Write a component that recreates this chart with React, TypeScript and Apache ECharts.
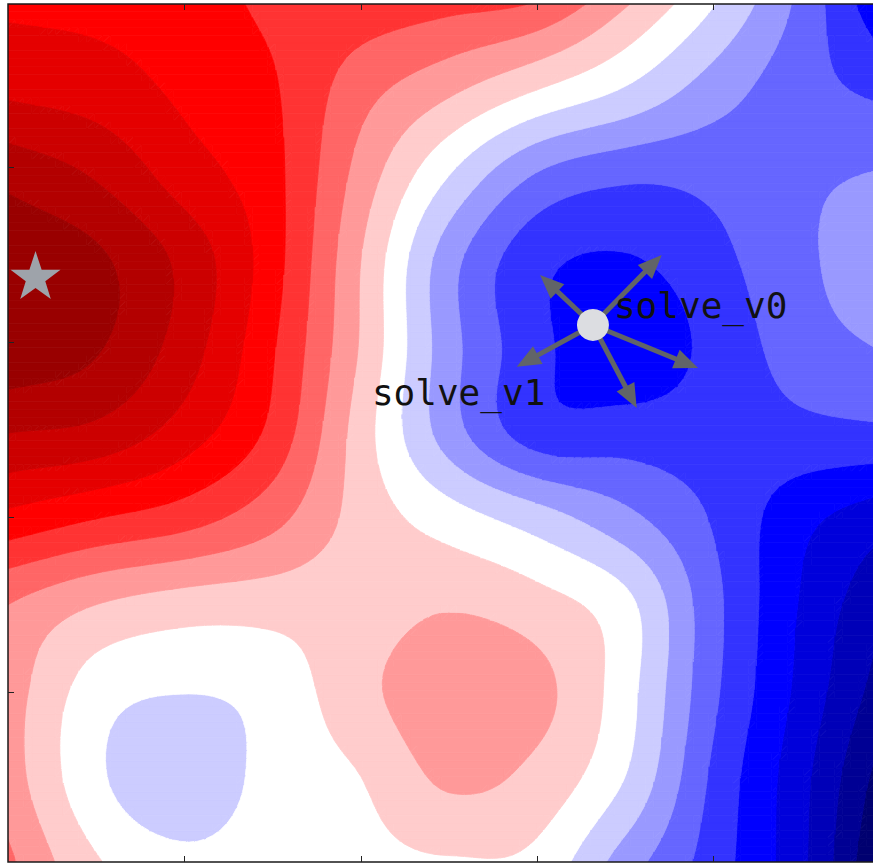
import React, { useEffect, useRef } from "react";
import * as echarts from "echarts";

// ---- axes ----
const X_MIN = 0;
const X_MAX = 5;
const Y_MIN = 0;
const Y_MAX = 4.9;
const X_TICKS = [1, 2, 3, 4];
const Y_TICKS = [0.97, 1.97, 2.97, 3.97];

// ---- sampled landscape (read from the picture) ----
// columns at x = 0, 0.5, ... 5 ; rows from the top (y = 4.9) down to y = 0
const FIELD_X = [0, 0.5, 1, 1.5, 2, 2.5, 3, 3.5, 4, 4.5, 5];
const FIELD_Y = [4.9, 4.41, 3.92, 3.43, 2.94, 2.45, 1.96, 1.47, 0.98, 0.49, 0];
const ROW_0 = [0.53, 0.52, 0.5, 0.43, 0.41, 0.38, 0.34, 0.16, -0.045, -0.28, -0.56];
const ROW_1 = [0.63, 0.6, 0.53, 0.46, 0.29, 0.17, 0.05, -0.06, -0.2, -0.31, -0.38];
const ROW_2 = [0.82, 0.74, 0.6, 0.48, 0.21, -0.05, -0.26, -0.33, -0.32, -0.27, -0.24];
const ROW_3 = [0.93, 0.87, 0.72, 0.49, 0.15, -0.21, -0.42, -0.46, -0.38, -0.27, -0.18];
const ROW_4 = [0.92, 0.86, 0.7, 0.46, 0.14, -0.21, -0.42, -0.52, -0.42, -0.3, -0.24];
const ROW_5 = [0.75, 0.72, 0.6, 0.42, 0.1, -0.2, -0.4, -0.4, -0.4, -0.38, -0.37];
const ROW_6 = [0.52, 0.45, 0.39, 0.28, 0.11, 0.0, -0.1, -0.22, -0.36, -0.52, -0.62];
const ROW_7 = [0.25, 0.15, 0.1, 0.09, 0.1, 0.14, 0.09, -0.02, -0.32, -0.56, -0.75];
const ROW_8 = [0.2, 0.0, -0.045, -0.01, 0.12, 0.22, 0.18, -0.01, -0.33, -0.58, -0.82];
const ROW_9 = [0.2, -0.03, -0.13, -0.01, 0.05, 0.17, 0.12, -0.05, -0.37, -0.62, -0.92];
const ROW_10 = [0.27, 0.06, -0.02, 0.01, 0.02, 0.04, 0.02, -0.2, -0.4, -0.63, -1.0];
const FIELD = [ROW_0, ROW_1, ROW_2, ROW_3, ROW_4, ROW_5, ROW_6, ROW_7, ROW_8, ROW_9, ROW_10];

// contour levels: bands centred on multiples of LEVEL_STEP from -1 to 1
const LEVEL_STEP = 0.1;
const LEVEL_COUNT = 21;

// ---- markers ----
const STAR_POINT = [0.156, 3.352];
const SOLVER_POINT = [3.316, 3.067];
const ARROW_TIPS = [
  [3.706, 3.467],
  [3.016, 3.352],
  [2.884, 2.829],
  [3.564, 2.593],
  [3.912, 2.821],
];
const LABEL_TEXTS = ["solve_v0", "solve_v1"];
const LABEL_POINTS = [
  [3.435, 3.178],
  [2.063, 2.681],
];

// ---- styles ----
const ARROW_COLOR = "#616468";
const CIRCLE_COLOR = "#dcdde1";
const STAR_COLOR = "#9ea3aa";
const STAR_PATH =
  "path://M50,0 L61.8,35.1 L98.1,35.1 L68.8,56.7 L79.4,90.5 L50,69.6 L20.6,90.5 L31.2,56.7 L1.9,35.1 L38.2,35.1 Z";

// seismic colormap
function seismic(t: number): string {
  const stops: [number, number[]][] = [
    [0, [0, 0, 0.3]],
    [0.25, [0, 0, 1]],
    [0.5, [1, 1, 1]],
    [0.75, [1, 0, 0]],
    [1, [0.5, 0, 0]],
  ];
  let k = 0;
  while (k < stops.length - 2 && t > stops[k + 1][0]) k++;
  const [t0, c0] = stops[k];
  const [t1, c1] = stops[k + 1];
  const f = Math.max(0, Math.min(1, (t - t0) / (t1 - t0)));
  const c = c0.map((v, i) => Math.round((v + (c1[i] - v) * f) * 255));
  return `rgb(${c[0]},${c[1]},${c[2]})`;
}
const HALF = (LEVEL_COUNT - 1) / 2;
const BAND_COLORS = Array.from({ length: LEVEL_COUNT }, (_, b) => seismic(b / (LEVEL_COUNT - 1)));

// ---- field interpolation (Catmull-Rom over the read grid) ----
const NC = FIELD_X.length;
const NR = FIELD_Y.length;
const CELL_X = (FIELD_X[NC - 1] - FIELD_X[0]) / (NC - 1);
const CELL_Y = (FIELD_Y[0] - FIELD_Y[NR - 1]) / (NR - 1);

function gv(i: number, j: number): number {
  if (i < 0) return 2 * gv(0, j) - gv(1, j);
  if (i > NC - 1) return 2 * gv(NC - 1, j) - gv(NC - 2, j);
  if (j < 0) return 2 * gv(i, 0) - gv(i, 1);
  if (j > NR - 1) return 2 * gv(i, NR - 1) - gv(i, NR - 2);
  return FIELD[j][i];
}
function cr(p0: number, p1: number, p2: number, p3: number, t: number) {
  return 0.5 * (2 * p1 + (-p0 + p2) * t + (2 * p0 - 5 * p1 + 4 * p2 - p3) * t * t + (-p0 + 3 * p1 - 3 * p2 + p3) * t * t * t);
}
function fieldAt(x: number, y: number): number {
  const gx = (x - FIELD_X[0]) / CELL_X;
  const gy = (FIELD_Y[0] - y) / CELL_Y;
  let i = Math.floor(gx);
  let j = Math.floor(gy);
  i = Math.max(0, Math.min(NC - 2, i));
  j = Math.max(0, Math.min(NR - 2, j));
  const tx = gx - i;
  const ty = gy - j;
  const col: number[] = [];
  for (let dj = -1; dj <= 2; dj++) {
    col.push(cr(gv(i - 1, j + dj), gv(i, j + dj), gv(i + 1, j + dj), gv(i + 2, j + dj), tx));
  }
  return cr(col[0], col[1], col[2], col[3], ty);
}

function bandOf(v: number) {
  return Math.max(0, Math.min(LEVEL_COUNT - 1, Math.floor(v / LEVEL_STEP + 0.5) + HALF));
}
function bandLo(b: number) {
  return (b - HALF - 0.5) * LEVEL_STEP;
}
function bandHi(b: number) {
  return (b - HALF + 0.5) * LEVEL_STEP;
}
function clip(poly: number[][], t: number, keepAbove: boolean): number[][] {
  const out: number[][] = [];
  for (let k = 0; k < poly.length; k++) {
    const a = poly[k];
    const b = poly[(k + 1) % poly.length];
    const ina = keepAbove ? a[2] >= t : a[2] < t;
    const inb = keepAbove ? b[2] >= t : b[2] < t;
    if (ina) out.push(a);
    if (ina !== inb) {
      const f = (t - a[2]) / (b[2] - a[2]);
      out.push([a[0] + f * (b[0] - a[0]), a[1] + f * (b[1] - a[1]), t]);
    }
  }
  return out;
}

type Shape = { b: number; pts: number[][]; cx: number; cy: number };

function buildShapes(): Shape[] {
  const NX = 112;
  const NY = 110;
  const dx = (X_MAX - X_MIN) / NX;
  const dy = (Y_MAX - Y_MIN) / NY;
  const V: number[][] = [];
  for (let j = 0; j <= NY; j++) {
    const row: number[] = [];
    for (let i = 0; i <= NX; i++) row.push(fieldAt(X_MIN + i * dx, Y_MIN + j * dy));
    V.push(row);
  }
  const shapes: Shape[] = [];
  const push = (b: number, pts: number[][]) => {
    let cx = 0;
    let cy = 0;
    pts.forEach((p) => {
      cx += p[0];
      cy += p[1];
    });
    shapes.push({ b, pts, cx: cx / pts.length, cy: cy / pts.length });
  };
  for (let j = 0; j < NY; j++) {
    const y0 = Y_MIN + j * dy;
    const y1 = Y_MIN + (j + 1) * dy;
    let runB = -1;
    let runStart = 0;
    const flush = (iEnd: number) => {
      if (runB >= 0) {
        push(runB, [
          [X_MIN + runStart * dx, y0],
          [X_MIN + iEnd * dx, y0],
          [X_MIN + iEnd * dx, y1],
          [X_MIN + runStart * dx, y1],
        ]);
      }
      runB = -1;
    };
    for (let i = 0; i < NX; i++) {
      const a = V[j][i];
      const b = V[j][i + 1];
      const c = V[j + 1][i + 1];
      const d = V[j + 1][i];
      const ba = bandOf(a);
      if (ba === bandOf(b) && ba === bandOf(c) && ba === bandOf(d)) {
        if (runB === ba) continue;
        flush(i);
        runB = ba;
        runStart = i;
        continue;
      }
      flush(i);
      const x0 = X_MIN + i * dx;
      const x1 = X_MIN + (i + 1) * dx;
      const P00 = [x0, y0, a];
      const P10 = [x1, y0, b];
      const P11 = [x1, y1, c];
      const P01 = [x0, y1, d];
      const tris = [
        [P00, P10, P11],
        [P00, P11, P01],
      ];
      for (const tri of tris) {
        const bs = tri.map((p) => bandOf(p[2]));
        const bmin = Math.min(...bs);
        const bmax = Math.max(...bs);
        for (let k = bmin; k <= bmax; k++) {
          let poly = tri;
          if (k > 0) poly = clip(poly, bandLo(k), true);
          if (poly.length >= 3 && k < LEVEL_COUNT - 1) poly = clip(poly, bandHi(k), false);
          if (poly.length >= 3) push(k, poly.map((p) => [p[0], p[1]]));
        }
      }
    }
    flush(NX);
  }
  return shapes;
}

export default function App() {
  const ref = useRef<HTMLDivElement>(null);
  useEffect(() => {
    if (!ref.current) return;
    const chart = echarts.init(ref.current, undefined, { renderer: "svg" });
    const shapes = buildShapes();
    const tickStyle = { show: true, inside: true, length: 6, lineStyle: { color: "#222", width: 1 } };
    const option: any = {
      animation: false,
      grid: {
        left: 8,
        top: 4,
        width: 882,
        height: 858,
        show: true,
        borderColor: "#1a1a1a",
        borderWidth: 1.5,
        backgroundColor: "transparent",
        z: 10,
      },
      xAxis: [
        {
          type: "value",
          min: X_MIN,
          max: X_MAX,
          interval: 1,
          position: "bottom",
          axisLine: { show: false },
          axisLabel: { show: false },
          splitLine: { show: false },
          axisTick: { ...tickStyle, customValues: X_TICKS },
          z: 10,
        },
        {
          type: "value",
          min: X_MIN,
          max: X_MAX,
          interval: 1,
          position: "top",
          axisLine: { show: false },
          axisLabel: { show: false },
          splitLine: { show: false },
          axisTick: { ...tickStyle, customValues: X_TICKS },
          z: 10,
        },
      ],
      yAxis: [
        {
          type: "value",
          min: Y_MIN,
          max: Y_MAX,
          interval: 1,
          axisLine: { show: false },
          axisLabel: { show: false, customValues: Y_TICKS },
          splitLine: { show: false },
          axisTick: { ...tickStyle, customValues: Y_TICKS },
          z: 10,
        },
      ],
      series: [
        {
          type: "custom",
          coordinateSystem: "cartesian2d",
          xAxisIndex: 0,
          yAxisIndex: 0,
          silent: true,
          clip: true,
          progressive: 0,
          progressiveThreshold: 1e9,
          z: 1,
          data: shapes.map((s, k) => [s.cx, s.cy, k]),
          renderItem: (params: any, api: any) => {
            const s = shapes[params.dataIndex];
            const pts = s.pts.map((p) => api.coord(p));
            const col = BAND_COLORS[s.b];
            return {
              type: "polygon",
              shape: { points: pts },
              style: { fill: col, stroke: col, lineWidth: 0.8 },
            };
          },
        },
        {
          type: "custom",
          coordinateSystem: "cartesian2d",
          silent: true,
          z: 20,
          data: ARROW_TIPS,
          renderItem: (params: any, api: any) => {
            const s = api.coord(SOLVER_POINT);
            const t = api.coord([api.value(0), api.value(1)]);
            const vx = t[0] - s[0];
            const vy = t[1] - s[1];
            const L = Math.hypot(vx, vy) || 1;
            const ux = vx / L;
            const uy = vy / L;
            const HL = 24;
            const HW = 10;
            const bx = t[0] - ux * HL;
            const by = t[1] - uy * HL;
            return {
              type: "group",
              children: [
                {
                  type: "line",
                  shape: { x1: s[0], y1: s[1], x2: bx + ux * 2, y2: by + uy * 2 },
                  style: { stroke: ARROW_COLOR, lineWidth: 5 },
                },
                {
                  type: "polygon",
                  shape: {
                    points: [
                      [t[0], t[1]],
                      [bx - uy * HW, by + ux * HW],
                      [bx + uy * HW, by - ux * HW],
                    ],
                  },
                  style: { fill: ARROW_COLOR },
                },
              ],
            };
          },
        },
        {
          type: "scatter",
          silent: true,
          z: 21,
          symbol: "circle",
          symbolSize: 32,
          itemStyle: { color: CIRCLE_COLOR, opacity: 1 },
          data: [SOLVER_POINT],
        },
        {
          type: "scatter",
          silent: true,
          z: 21,
          symbol: STAR_PATH,
          symbolSize: [50, 48],
          itemStyle: { color: STAR_COLOR, opacity: 1 },
          data: [STAR_POINT],
        },
        {
          type: "custom",
          coordinateSystem: "cartesian2d",
          silent: true,
          z: 22,
          data: LABEL_POINTS,
          renderItem: (params: any, api: any) => {
            const p = api.coord([api.value(0), api.value(1)]);
            return {
              type: "text",
              x: p[0],
              y: p[1],
              style: {
                text: LABEL_TEXTS[params.dataIndex],
                fill: "#111",
                fontSize: 36,
                fontFamily: '"DejaVu Sans Mono", monospace',
                align: "left",
                verticalAlign: "middle",
              },
            };
          },
        },
      ],
    };
    chart.setOption(option);
    return () => chart.dispose();
  }, []);
  return (
    <div
      ref={ref}
      style={{ position: "fixed", left: 0, top: 0, width: 900, height: 866, background: "#fff" }}
    />
  );
}
